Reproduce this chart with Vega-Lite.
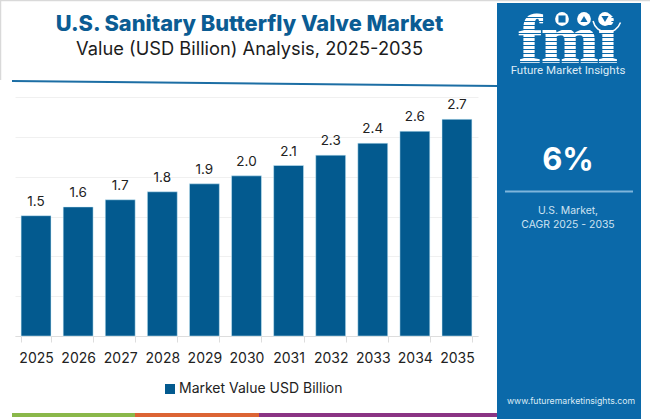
{
  "$schema": "https://vega.github.io/schema/vega-lite/v6.json",
  "width": 463,
  "height": 239,
  "autosize": "none",
  "padding": {"left": 15, "top": 97, "right": 172, "bottom": 83},
  "background": "white",
  "font": "Inter",
  "title": {
    "text": "U.S. Sanitary Butterfly Valve Market",
    "subtitle": "Value (USD Billion) Analysis, 2025-2035",
    "anchor": "middle",
    "dx": 3,
    "offset": -59,
    "font": "Inter",
    "fontSize": 21.8,
    "fontWeight": 800,
    "color": "#0b5c93",
    "subtitleFont": "Inter",
    "subtitleFontSize": 18.3,
    "subtitleColor": "#1c1c1c",
    "subtitlePadding": 5
  },
  "layer": [
    {
      "layer": [
        {
          "data": {"values": [{"part": "panel"}]},
          "mark": {"type": "rect", "color": "#0b69a9"},
          "encoding": {
            "x": {"datum": 497, "type": "quantitative", "axis": null, "scale": {"domain": [0, 650], "range": [-15, 635], "nice": false}},
            "x2": {"datum": 641},
            "y": {"datum": 3, "type": "quantitative", "axis": null, "scale": {"domain": [0, 419], "range": [-97, 322], "nice": false}},
            "y2": {"datum": 419}
          }
        },
        {
          "data": {"values": [{"part": "title rule"}]},
          "mark": {"type": "rule", "color": "#1c6ea4", "strokeWidth": 2},
          "encoding": {
            "x": {"datum": 12, "type": "quantitative", "axis": null},
            "x2": {"datum": 497},
            "y": {"datum": 81, "type": "quantitative", "axis": null},
            "y2": {"datum": 86}
          }
        },
        {
          "data": {"values": [{"part": "top edge"}]},
          "mark": {"type": "rule", "color": "#d9d9d9", "strokeWidth": 1.5},
          "encoding": {
            "x": {"datum": 0, "type": "quantitative", "axis": null},
            "x2": {"datum": 650},
            "y": {"datum": 0.5, "type": "quantitative", "axis": null}
          }
        },
        {
          "data": {"values": [{"part": "left edge"}]},
          "mark": {"type": "rule", "color": "#d9d9d9", "strokeWidth": 1.5},
          "encoding": {
            "x": {"datum": 0.5, "type": "quantitative", "axis": null},
            "y": {"datum": 0, "type": "quantitative", "axis": null},
            "y2": {"datum": 80}
          }
        },
        {
          "data": {"values": [{"part": "green"}]},
          "mark": {"type": "rect", "color": "#8ab84a"},
          "encoding": {
            "x": {"datum": 12, "type": "quantitative", "axis": null},
            "x2": {"datum": 135},
            "y": {"datum": 413, "type": "quantitative", "axis": null},
            "y2": {"datum": 417}
          }
        },
        {
          "data": {"values": [{"part": "orange"}]},
          "mark": {"type": "rect", "color": "#dc6434"},
          "encoding": {
            "x": {"datum": 135, "type": "quantitative", "axis": null},
            "x2": {"datum": 259},
            "y": {"datum": 413, "type": "quantitative", "axis": null},
            "y2": {"datum": 417}
          }
        },
        {
          "data": {"values": [{"part": "purple"}]},
          "mark": {"type": "rect", "color": "#8a3484"},
          "encoding": {
            "x": {"datum": 259, "type": "quantitative", "axis": null},
            "x2": {"datum": 497},
            "y": {"datum": 413, "type": "quantitative", "axis": null},
            "y2": {"datum": 417}
          }
        },
        {
          "data": {"values": [{"label": "fmi"}]},
          "mark": {"type": "text", "font": "Liberation Serif", "fontWeight": "bold", "fontSize": 68, "color": "white", "stroke": "white", "strokeWidth": 1.5, "align": "center", "baseline": "alphabetic"},
          "encoding": {
            "x": {"datum": 568, "type": "quantitative", "axis": null},
            "y": {"datum": 62, "type": "quantitative", "axis": null},
            "text": {"field": "label"}
          }
        }
      ]
    },
    {
      "data": {"values": [{"stripe": 1}, {"stripe": 2}, {"stripe": 3}, {"stripe": 4}, {"stripe": 5}, {"stripe": 6}, {"stripe": 7}, {"stripe": 8}, {"stripe": 9}, {"stripe": 10}, {"stripe": 11}, {"stripe": 12}]},
      "mark": {"type": "bar", "color": "#0b69a9"},
      "encoding": {
        "x": {"datum": 512, "type": "quantitative", "axis": null, "scale": {"domain": [0, 650], "range": [-15, 635], "nice": false}},
        "x2": {"datum": 626},
        "y": {"field": "stripe", "type": "ordinal", "axis": null, "scale": {"range": [-80, -35], "paddingInner": 0.72, "paddingOuter": 0}}
      }
    },
    {
      "layer": [
        {
          "data": {"values": [{"globe": "Americas"}]},
          "mark": {"type": "point", "filled": true, "color": "white", "opacity": 1, "size": 190},
          "encoding": {
            "x": {"datum": 562, "type": "quantitative", "axis": null, "scale": {"domain": [0, 650], "range": [-15, 635], "nice": false}},
            "y": {"datum": 19, "type": "quantitative", "axis": null, "scale": {"domain": [0, 419], "range": [-97, 322], "nice": false}}
          }
        },
        {
          "data": {"values": [{"globe": "Europe"}]},
          "mark": {"type": "point", "filled": true, "color": "white", "opacity": 1, "size": 190},
          "encoding": {
            "x": {"datum": 584, "type": "quantitative", "axis": null},
            "y": {"datum": 19, "type": "quantitative", "axis": null}
          }
        },
        {
          "data": {"values": [{"globe": "Asia"}]},
          "mark": {"type": "point", "filled": true, "color": "white", "opacity": 1, "size": 190},
          "encoding": {
            "x": {"datum": 605, "type": "quantitative", "axis": null},
            "y": {"datum": 19, "type": "quantitative", "axis": null}
          }
        },
        {
          "data": {"values": [{"globe": "Americas land"}]},
          "mark": {"type": "point", "filled": true, "shape": "square", "color": "#0b69a9", "opacity": 1, "size": 50},
          "encoding": {
            "x": {"datum": 562, "type": "quantitative", "axis": null},
            "y": {"datum": 19, "type": "quantitative", "axis": null}
          }
        },
        {
          "data": {"values": [{"globe": "Europe land"}]},
          "mark": {"type": "point", "filled": true, "shape": "triangle-up", "color": "#0b69a9", "opacity": 1, "size": 50},
          "encoding": {
            "x": {"datum": 584, "type": "quantitative", "axis": null},
            "y": {"datum": 19, "type": "quantitative", "axis": null}
          }
        },
        {
          "data": {"values": [{"globe": "Asia land"}]},
          "mark": {"type": "point", "filled": true, "shape": "triangle-down", "color": "#0b69a9", "opacity": 1, "size": 50},
          "encoding": {
            "x": {"datum": 605, "type": "quantitative", "axis": null},
            "y": {"datum": 19, "type": "quantitative", "axis": null}
          }
        },
        {
          "data": {"values": [{"part": "smile"}]},
          "mark": {"type": "arc", "color": "white", "radius": 15, "radius2": 13.5, "theta": 1.9, "theta2": 4.5},
          "encoding": {
            "x": {"datum": 607, "type": "quantitative", "axis": null},
            "y": {"datum": 18, "type": "quantitative", "axis": null}
          }
        },
        {
          "data": {"values": [{"label": "Future Market Insights"}]},
          "mark": {"type": "text", "font": "Roboto", "fontSize": 11.5, "color": "#dcebf6", "align": "center", "baseline": "middle"},
          "encoding": {
            "x": {"datum": 568, "type": "quantitative", "axis": null},
            "y": {"datum": 71, "type": "quantitative", "axis": null},
            "text": {"field": "label"}
          }
        },
        {
          "data": {"values": [{"label": "6%"}]},
          "mark": {"type": "text", "font": "Inter", "fontWeight": 700, "fontSize": 31, "color": "white", "align": "center", "baseline": "middle"},
          "encoding": {
            "x": {"datum": 568, "type": "quantitative", "axis": null},
            "y": {"datum": 161, "type": "quantitative", "axis": null},
            "text": {"field": "label"}
          }
        },
        {
          "data": {"values": [{"part": "panel rule"}]},
          "mark": {"type": "rule", "color": "#7fb5dc", "strokeWidth": 2},
          "encoding": {
            "x": {"datum": 505, "type": "quantitative", "axis": null},
            "x2": {"datum": 633},
            "y": {"datum": 191.5, "type": "quantitative", "axis": null}
          }
        },
        {
          "data": {"values": [{"label": "U.S. Market,"}]},
          "mark": {"type": "text", "font": "Inter", "fontSize": 10.4, "color": "#cfe3f2", "align": "center", "baseline": "middle"},
          "encoding": {
            "x": {"datum": 568, "type": "quantitative", "axis": null},
            "y": {"datum": 211, "type": "quantitative", "axis": null},
            "text": {"field": "label"}
          }
        },
        {
          "data": {"values": [{"label": "CAGR 2025 - 2035"}]},
          "mark": {"type": "text", "font": "Inter", "fontSize": 10.4, "color": "#cfe3f2", "align": "center", "baseline": "middle"},
          "encoding": {
            "x": {"datum": 568, "type": "quantitative", "axis": null},
            "y": {"datum": 225, "type": "quantitative", "axis": null},
            "text": {"field": "label"}
          }
        },
        {
          "data": {"values": [{"label": "www.futuremarketinsights.com"}]},
          "mark": {"type": "text", "font": "Inter", "fontSize": 8.7, "color": "#dcebf6", "align": "center", "baseline": "middle"},
          "encoding": {
            "x": {"datum": 571, "type": "quantitative", "axis": null},
            "y": {"datum": 401, "type": "quantitative", "axis": null},
            "text": {"field": "label"}
          }
        }
      ]
    },
    {
      "data": {
        "values": [
          {"year": "2025", "value": 1.51, "series": "Market Value USD Billion"},
          {"year": "2026", "value": 1.62, "series": "Market Value USD Billion"},
          {"year": "2027", "value": 1.71, "series": "Market Value USD Billion"},
          {"year": "2028", "value": 1.81, "series": "Market Value USD Billion"},
          {"year": "2029", "value": 1.91, "series": "Market Value USD Billion"},
          {"year": "2030", "value": 2.01, "series": "Market Value USD Billion"},
          {"year": "2031", "value": 2.14, "series": "Market Value USD Billion"},
          {"year": "2032", "value": 2.27, "series": "Market Value USD Billion"},
          {"year": "2033", "value": 2.42, "series": "Market Value USD Billion"},
          {"year": "2034", "value": 2.57, "series": "Market Value USD Billion"},
          {"year": "2035", "value": 2.72, "series": "Market Value USD Billion"}
        ]
      },
      "encoding": {
        "x": {
          "field": "year",
          "type": "ordinal",
          "title": null,
          "scale": {"paddingInner": 0.29, "paddingOuter": 0.145},
          "axis": {
            "labelAngle": 0,
            "labelFont": "Inter",
            "labelFontSize": 14,
            "labelColor": "#222222",
            "labelPadding": 9,
            "domainColor": "#dddddd",
            "tickColor": "#dddddd",
            "tickSize": 6,
            "tickBand": "extent",
            "grid": false
          }
        },
        "y": {
          "field": "value",
          "type": "quantitative",
          "title": null,
          "scale": {"domain": [0, 3]},
          "axis": {
            "values": [0, 0.5, 1, 1.5, 2, 2.5, 3],
            "labels": false,
            "ticks": false,
            "domain": false,
            "grid": true,
            "gridColor": "#f0f0f0"
          }
        }
      },
      "layer": [
        {
          "mark": {"type": "bar", "stroke": "#cfeefa", "strokeWidth": 0.5},
          "encoding": {
            "color": {
              "field": "series",
              "type": "nominal",
              "scale": {"range": ["#035a8f"]},
              "legend": {
                "title": null,
                "orient": "none",
                "legendX": 148,
                "legendY": 285,
                "symbolType": "square",
                "symbolSize": 100,
                "symbolStrokeWidth": 0,
                "labelFont": "Inter",
                "labelFontSize": 14,
                "labelColor": "#222222",
                "labelOffset": 2,
                "labelLimit": 240
              }
            }
          }
        },
        {
          "mark": {"type": "text", "font": "Inter", "fontSize": 13.5, "color": "#222222", "baseline": "bottom", "dy": -7},
          "encoding": {
            "text": {"field": "value", "type": "quantitative", "format": ".1f"}
          }
        }
      ]
    }
  ],
  "resolve": {"scale": {"x": "independent", "y": "independent"}},
  "config": {"view": {"stroke": null}}
}
